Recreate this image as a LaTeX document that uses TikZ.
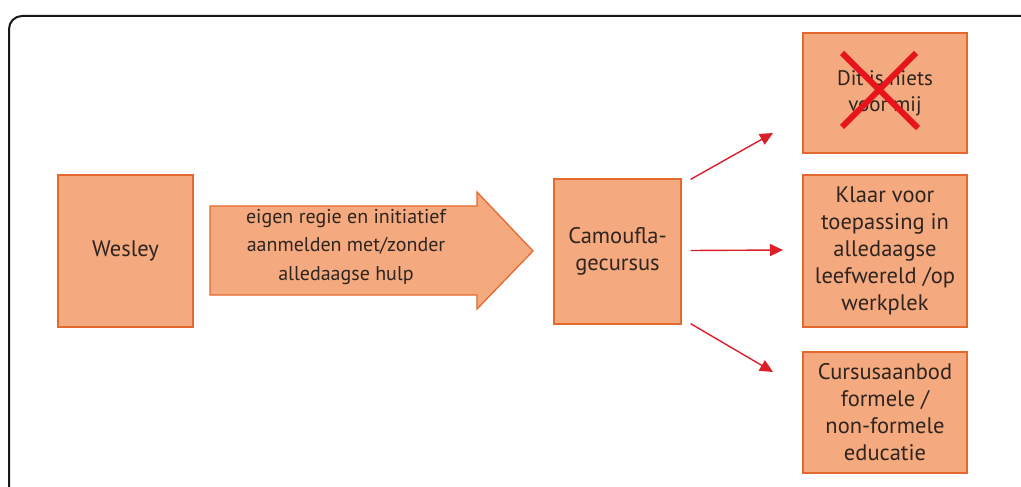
\documentclass[tikz,border=0pt]{standalone}
\usepackage{fontspec}
\setmainfont{PT Sans}
\usetikzlibrary{arrows.meta}
\definecolor{boxfill}{HTML}{F4A97E}
\definecolor{boxline}{HTML}{E4692E}
\definecolor{arrred}{HTML}{DC1E28}
\definecolor{xred}{HTML}{E8141B}
\definecolor{txt}{HTML}{2E2420}
\tikzset{
  box/.style={draw=boxline, fill=boxfill, line width=1.3pt, inner sep=0pt, align=center,
    text=txt, font=\fontsize{22.5}{27}\selectfont},
  lbl/.style={inner sep=0pt, align=center, text=txt, font=\fontsize{20}{28.5}\selectfont},
  conn/.style={draw=arrred, line width=1.4pt, -{Triangle[length=13pt,width=12pt]}},
  cross/.style={draw=xred, line width=6pt},
  frame/.style={draw=black!90, line width=2pt, rounded corners=13pt}
}
\begin{document}
\begin{tikzpicture}[x=1pt,y=-1pt]
\useasboundingbox (0,0) rectangle (1021,487);
\draw[frame] (9,520) -- (9,16) -- (1060,16);
% nodes
\node[box, minimum width=135pt, minimum height=152pt] (wes) at (125.5,251) {Wesley};
\node[box, minimum width=127pt, minimum height=145pt] (camo) at (617.5,251.5) {Camoufla-\\gecursus};
\node[box, minimum width=164pt, minimum height=120pt, font=\fontsize{21}{26}\selectfont] (niets) at (885,93) {Dit is niets\\voor mij};
\node[box, minimum width=164pt, minimum height=152pt] (klaar) at (885,251) {Klaar voor\\toepassing in\\alledaagse\\leefwereld /op\\werkplek};
\node[box, minimum width=164pt, minimum height=121pt] (cursus) at (885,412.5) {Cursusaanbod\\formele /\\non-formele\\educatie};
% big arrow
\draw[draw=boxline, fill=boxfill, line width=1.3pt, line join=miter]
  (210,206) -- (477,206) -- (477,192) -- (533,251) -- (477,309) -- (477,295) -- (210,295) -- cycle;
\node[lbl] (regie) at (346,247) {eigen regie en initiatief\\aanmelden met/zonder\\alledaagse hulp};
% red cross
\coordinate (xa) at (842,53);
\coordinate (xb) at (918,128);
\coordinate (xc) at (916,53);
\coordinate (xd) at (842,127);
\draw[cross] (xa) -- (xb);
\draw[cross] (xc) -- (xd);
% connectors
\draw[conn] (camo.north east) ++(9,1) coordinate (s1) -- (773,133) coordinate (e1);
\draw[conn] (camo.east) ++(9,-1) -- (783,250);
\draw[conn] (camo.south east) ++(9,-1) -- (773,372);
\end{tikzpicture}
\end{document}
